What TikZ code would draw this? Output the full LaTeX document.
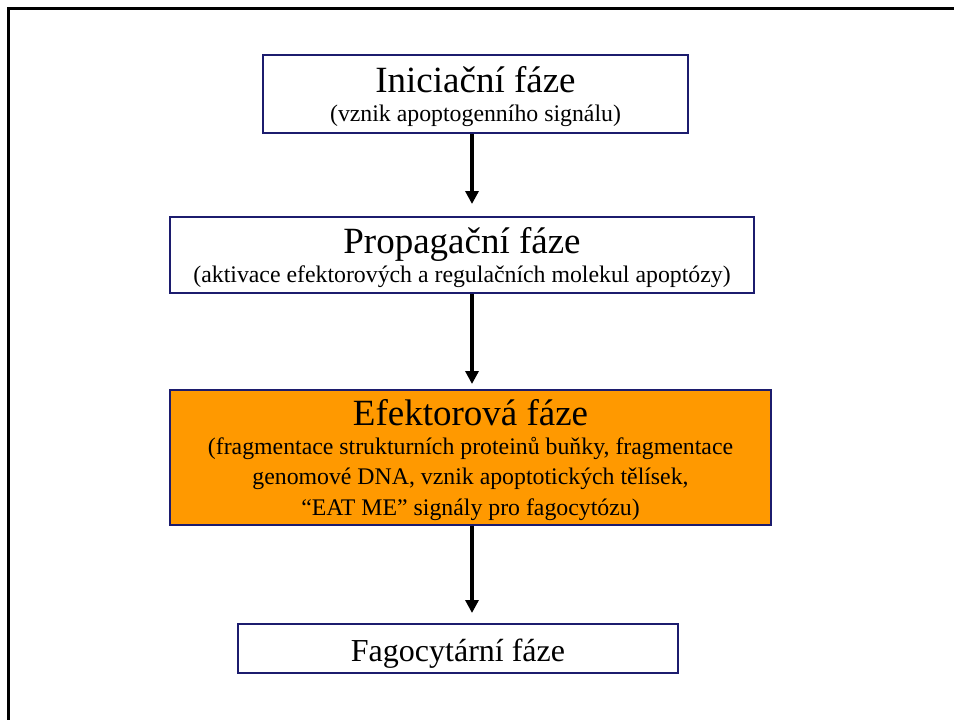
\documentclass[tikz,border=0pt]{standalone}
\usepackage{fontspec}
\setmainfont{Liberation Serif}
\usetikzlibrary{arrows.meta}

\definecolor{boxline}{RGB}{28,28,110}
\definecolor{phaseorange}{RGB}{255,153,0}

\newcommand{\phasetitle}{\fontsize{37}{40}\selectfont}
\newcommand{\phasetitlesmall}{\fontsize{32}{36}\selectfont}
\newcommand{\phasesub}{\fontsize{23.8}{30.5}\selectfont}
% taller strut on the title line pushes the text block slightly lower in its box
\newcommand{\titlestrut}{\rule{0pt}{31pt}}

\tikzset{
  phasebox/.style={draw=boxline, line width=1.5pt, fill=white, rectangle,
    align=center, inner sep=0pt, font=\phasesub},
  flowarrow/.style={line width=3.5pt, -{Triangle[length=13pt,width=13pt]}},
  frameline/.style={line width=3pt, black}
}

\begin{document}
\begin{tikzpicture}[x=1pt,y=-1pt]
  \useasboundingbox (0,0) rectangle (954,720);

  % slide frame (top and left edges)
  \draw[frameline] (8,720) -- (8,8) -- (954,8);

  % phase boxes
  \node[phasebox, minimum width=425pt, minimum height=78pt] (b1) at (475.5,94)
    {{\phasetitle\titlestrut Iniciační fáze}\\[-2pt](vznik apoptogenního signálu)};
  \node[phasebox, minimum width=584pt, minimum height=76pt] (b2) at (462,255)
    {{\phasetitle\titlestrut Propagační fáze}\\[-2pt](aktivace efektorových a regulačních molekul apoptózy)};
  \node[phasebox, fill=phaseorange, minimum width=601pt, minimum height=135pt] (b3) at (470.5,457.5)
    {{\phasetitle\titlestrut Efektorová fáze}\\[-2pt](fragmentace strukturních proteinů buňky, fragmentace\\
     genomové DNA, vznik apoptotických tělísek,\\“EAT ME” signály pro fagocytózu)};
  \node[phasebox, minimum width=440pt, minimum height=49pt] (b4) at (458,648.5)
    {{\phasetitlesmall\rule{0pt}{33pt}Fagocytární fáze}};

  % arrow tips
  \coordinate (t1) at (472,204);
  \coordinate (t2) at (472,384);
  \coordinate (t3) at (472,613);

  \draw[flowarrow] (b1.south -| t1) -- (t1);
  \draw[flowarrow] (b2.south -| t2) -- (t2);
  \draw[flowarrow] (b3.south -| t3) -- (t3);
\end{tikzpicture}
\end{document}
